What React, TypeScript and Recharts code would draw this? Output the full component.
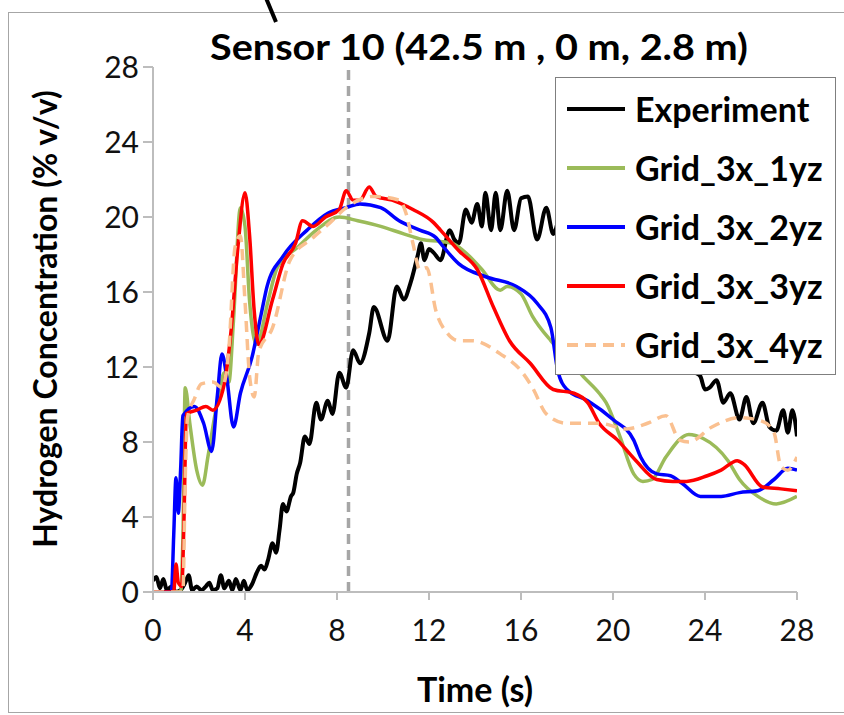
import React from 'react';
import { LineChart, Line, XAxis, YAxis, ReferenceLine } from 'recharts';

// ---------------------------------------------------------------------------
// Data: [time (s), H2 concentration (% v/v)]
// ---------------------------------------------------------------------------
const xTicks = [0, 4, 8, 12, 16, 20, 24, 28];
const yTicks = [0, 4, 8, 12, 16, 20, 24, 28];
const markerTime = 8.5;

const experiment: [number, number][] = [
  [0, 0.6], [0.15, 0.8], [0.3, 0.2], [0.45, 0.7], [0.6, 0.1], [0.8, 0.3], [1.0, 0], [1.2, 0.1],
  [1.4, 0.5], [1.55, 0.9], [1.7, 0.1], [1.9, 0.3], [2.1, 0.1], [2.3, 0.3], [2.45, 0.5], [2.6, 0.1],
  [2.8, 0.2], [2.95, 0.9], [3.1, 0.2], [3.3, 0.6], [3.45, 0.1], [3.6, 0.7], [3.8, 0.1], [3.95, 0.6],
  [4.1, 0.1], [4.3, 0.4], [4.5, 1.0], [4.7, 1.4], [4.85, 1.2], [5.0, 1.7], [5.2, 2.6], [5.35, 2.1],
  [5.5, 3.3], [5.65, 4.7], [5.8, 4.3], [6.0, 5.1], [6.1, 5.3], [6.25, 6.3], [6.4, 6.9], [6.6, 8.3],
  [6.8, 7.9], [7.1, 10.1], [7.3, 9.2], [7.6, 10.2], [7.8, 9.5], [8.1, 11.7], [8.4, 10.9], [8.7, 12.9],
  [9.0, 12.2], [9.4, 13.8], [9.6, 15.2], [10.2, 13.4], [10.6, 16.3], [10.9, 15.6], [11.2, 16.5],
  [11.5, 17.9], [11.65, 18.6], [11.8, 17.7], [12.0, 18.3], [12.2, 18.1], [12.5, 17.7], [12.9, 19.3],
  [13.1, 18.8], [13.3, 18.6], [13.6, 20.4], [13.85, 19.7], [14.1, 20.7], [14.3, 19.5], [14.45, 21.3],
  [14.7, 19.3], [14.9, 21.3], [15.1, 19.3], [15.4, 21.4], [15.7, 19.3], [16.0, 21.0], [16.3, 21.1],
  [16.7, 18.8], [17.1, 20.5], [17.4, 19.1], [17.8, 20.4], [18.2, 19.0], [18.7, 19.6], [19.2, 18.0],
  [19.7, 18.4], [20.2, 16.8], [20.8, 16.5], [21.4, 15.0], [22.0, 14.6], [22.6, 13.2], [23.2, 12.6],
  [23.6, 11.7], [23.8, 11.5], [24.0, 10.8], [24.2, 10.9], [24.5, 11.3], [24.8, 10.1], [25.1, 10.6],
  [25.5, 9.2], [25.8, 10.4], [26.1, 9.0], [26.5, 10.1], [26.8, 8.8], [27.1, 8.6], [27.4, 9.7],
  [27.6, 8.5], [27.8, 9.7], [28, 8.3],
];

const grid1yz: [number, number][] = [
  [0, 0], [1.2, 0], [1.3, 3], [1.4, 10.9], [1.6, 9.0], [1.9, 6.5], [2.15, 5.7], [2.4, 7.3],
  [2.7, 9.5], [2.9, 10.8], [3.1, 11.7], [3.3, 11.2], [3.5, 14.5], [3.8, 20.5], [4.0, 19.5],
  [4.2, 15.5], [4.5, 13.2], [5.0, 15.5], [5.4, 17.3], [6.3, 18.4], [7.1, 19.3], [8.1, 20.0],
  [8.9, 19.8], [9.9, 19.5], [10.9, 19.1], [11.7, 18.8], [12.5, 18.7], [13.0, 18.6], [13.5, 18.2],
  [14.3, 17.2], [15.1, 16.1], [15.4, 16.3], [16.0, 15.9], [16.5, 14.7], [17.3, 13.4], [18.0, 12.5],
  [18.7, 11.5], [19.4, 10.6], [19.7, 10.1], [20.3, 8.3], [20.9, 6.3], [21.3, 5.9], [21.7, 6.0],
  [22.3, 7.2], [23.3, 8.4], [23.9, 8.2], [25.0, 7.0], [25.5, 6.0], [26.3, 5.1], [27.1, 4.7], [28, 5.1],
];

const grid2yz: [number, number][] = [
  [0, 0], [0.8, 0], [0.9, 3], [1.0, 6.1], [1.1, 4.2], [1.2, 6.5], [1.3, 9.4], [1.8, 9.9],
  [2.2, 9.0], [2.55, 7.5], [2.8, 10.5], [3.0, 12.7], [3.2, 11.5], [3.5, 8.8], [3.8, 10.6],
  [4.3, 12.5], [4.7, 14.8], [4.96, 16.3], [5.65, 17.9], [6.7, 19.3], [7.6, 20.2], [8.4, 20.5],
  [9.0, 20.7], [9.9, 20.5], [10.7, 19.8], [11.6, 19.3], [12.3, 18.9], [12.5, 18.6], [13.3, 17.5],
  [14.5, 16.8], [15.8, 16.3], [16.7, 15.4], [17.3, 14.1], [17.6, 11.8], [18.0, 10.8], [18.9, 10.2],
  [20.0, 9.2], [20.9, 8.1], [21.2, 7.2], [21.9, 6.3], [22.5, 6.2], [23.0, 5.8], [23.8, 5.1],
  [24.7, 5.1], [25.5, 5.3], [26.3, 5.4], [27.0, 6.0], [27.6, 6.6], [28, 6.5],
];

const grid3yz: [number, number][] = [
  [0, 0], [0.9, 0], [1.0, 1.5], [1.1, 0.5], [1.25, 0.3], [1.35, 4], [1.45, 9.5], [1.9, 9.7],
  [2.3, 9.9], [2.6, 9.7], [3.1, 11.1], [3.4, 14], [3.7, 18.5], [4.0, 21.3], [4.2, 19], [4.4, 15],
  [4.6, 13.2], [5.2, 15.6], [5.65, 17.5], [6.2, 18.6], [6.5, 19.8], [6.96, 19.5], [7.5, 20.0],
  [8.1, 20.4], [8.4, 21.4], [8.7, 20.9], [9.0, 20.9], [9.4, 21.6], [9.7, 21.1], [10.4, 20.9],
  [11.3, 20.4], [12.2, 19.7], [12.5, 19.3], [13.3, 18.2], [14.1, 17.2], [14.8, 15.2], [15.5, 13.4],
  [16.4, 12.2], [17.4, 10.8], [18.3, 10.6], [18.9, 10.1], [19.4, 9.0], [20.2, 8.1], [21.0, 7.0],
  [21.9, 6.0], [22.6, 5.9], [23.2, 5.9], [24.1, 6.2], [24.7, 6.5], [25.4, 7.0], [25.7, 6.8],
  [26.5, 5.6], [27.3, 5.5], [28, 5.4],
];

const grid4yz: [number, number][] = [
  [0, 0], [1.3, 0], [1.4, 6], [1.5, 9.3], [1.8, 10.3], [2.1, 11.1], [2.6, 11.2], [3.0, 10.9],
  [3.3, 13], [3.57, 18.4], [3.8, 19.0], [4.0, 15.5], [4.2, 11.5], [4.4, 10.4], [4.6, 12.8],
  [5.2, 14.1], [5.96, 17.7], [6.96, 18.9], [7.7, 19.7], [8.4, 20.5], [9.6, 21.1], [10.7, 20.9],
  [11.0, 20.2], [11.3, 18.6], [11.6, 17.2], [11.9, 17.3], [12.3, 15.0], [12.8, 13.8], [13.3, 13.4],
  [13.9, 13.4], [15.1, 12.7], [16.0, 11.8], [16.5, 10.9], [17.1, 9.5], [18.0, 9.0], [19.4, 9.0],
  [20.6, 8.7], [21.5, 9.0], [22.3, 9.4], [22.9, 8.1], [23.3, 8.0], [24.3, 8.8], [25.5, 9.3],
  [26.5, 9.1], [27.0, 8.5], [27.3, 6.7], [27.6, 6.5], [28, 7.2],
];

// ---------------------------------------------------------------------------
// Series styling
// ---------------------------------------------------------------------------
const series = [
  { name: 'Experiment', points: experiment, color: '#000000', dash: undefined, width: 4 },
  { name: 'Grid_3x_1yz', points: grid1yz, color: '#9BBB59', dash: undefined, width: 3.5 },
  { name: 'Grid_3x_2yz', points: grid2yz, color: '#0000FF', dash: undefined, width: 3.5 },
  { name: 'Grid_3x_3yz', points: grid3yz, color: '#FF0000', dash: undefined, width: 3.5 },
  { name: 'Grid_3x_4yz', points: grid4yz, color: '#FAC090', dash: '11 7', width: 3.5 },
];

const toRows = (pts: [number, number][]) => pts.map(([t, v]) => ({ t, v }));

const FONT = 'Lato, "Open Sans", sans-serif';
const AXIS_GREY = '#BDBDBD';

export default function App() {
  return (
    <div
      style={{
        position: 'fixed',
        left: 0,
        top: 0,
        width: 844,
        height: 715,
        overflow: 'hidden',
        background: '#fff',
        fontFamily: FONT,
      }}
    >
      {/* outer frame */}
      <div
        style={{
          position: 'absolute',
          left: 8,
          top: 12,
          width: 860,
          height: 699,
          border: '1.5px solid #A6A6A6',
        }}
      />

      <div style={{ position: 'absolute', left: 0, top: 0 }}>
        <LineChart
          width={844}
          height={715}
          margin={{ top: 67, right: 47, bottom: 0, left: 83 }}
        >
          <XAxis
            type="number"
            dataKey="t"
            domain={[0, 28]}
            ticks={xTicks}
            height={123}
            stroke={AXIS_GREY}
            strokeWidth={2}
            tickSize={8}
            tickMargin={20}
            tick={{ fontSize: 30, fill: '#111', fontFamily: FONT }}
            allowDataOverflow
          />
          <YAxis
            type="number"
            domain={[0, 28]}
            ticks={yTicks}
            width={70}
            stroke={AXIS_GREY}
            strokeWidth={2}
            tickSize={10}
            tickMargin={4}
            tick={{ fontSize: 30, fill: '#111', fontFamily: FONT }}
            allowDataOverflow
          />
          <ReferenceLine
            x={markerTime}
            stroke="#A6A6A6"
            strokeWidth={3.5}
            strokeDasharray="10 6"
          />
          {series.map((s) => (
            <Line
              key={s.name}
              data={toRows(s.points)}
              dataKey="v"
              name={s.name}
              type="monotone"
              stroke={s.color}
              strokeWidth={s.width}
              strokeDasharray={s.dash}
              dot={false}
              activeDot={false}
              isAnimationActive={false}
            />
          ))}
        </LineChart>
      </div>

      {/* title, axis titles and the stray annotation stroke */}
      <svg
        width={844}
        height={715}
        style={{ position: 'absolute', left: 0, top: 0, pointerEvents: 'none' }}
      >
        <line x1={266} y1={-2} x2={276} y2={22} stroke="#000" strokeWidth={4} />
        <text
          x={479}
          y={45}
          textAnchor="middle"
          dominantBaseline="central"
          fontSize={37}
          fontWeight="bold"
          fontFamily={FONT}
          fill="#000"
          textLength={538}
          lengthAdjust="spacingAndGlyphs"
        >
          Sensor 10 (42.5 m , 0 m, 2.8 m)
        </text>
        <text
          x={44}
          y={319}
          textAnchor="middle"
          dominantBaseline="central"
          fontSize={32}
          fontWeight="bold"
          fontFamily={FONT}
          fill="#000"
          transform="rotate(-90 44 319)"
        >
          Hydrogen Concentration (% v/v)
        </text>
        <text
          x={475}
          y={688}
          textAnchor="middle"
          dominantBaseline="central"
          fontSize={34}
          fontWeight="bold"
          fontFamily={FONT}
          fill="#000"
        >
          Time (s)
        </text>
      </svg>

      {/* legend box (opaque, drawn over the lines like the original) */}
      <div
        style={{
          position: 'absolute',
          left: 555,
          top: 77,
          width: 281,
          height: 298,
          boxSizing: 'border-box',
          border: '1.5px solid #7F7F7F',
          background: '#fff',
          paddingTop: 1,
        }}
      >
        {series.map((s) => (
          <div
            key={s.name}
            style={{ display: 'flex', alignItems: 'center', height: 59 }}
          >
            <svg width={58} height={8} style={{ marginLeft: 11, flex: 'none' }}>
              <line
                x1={0}
                y1={4}
                x2={58}
                y2={4}
                stroke={s.color}
                strokeWidth={4}
                strokeDasharray={s.dash}
              />
            </svg>
            <span
              style={{
                marginLeft: 10,
                fontSize: 34,
                fontWeight: 'bold',
                color: '#000',
                whiteSpace: 'nowrap',
              }}
            >
              {s.name}
            </span>
          </div>
        ))}
      </div>
    </div>
  );
}
